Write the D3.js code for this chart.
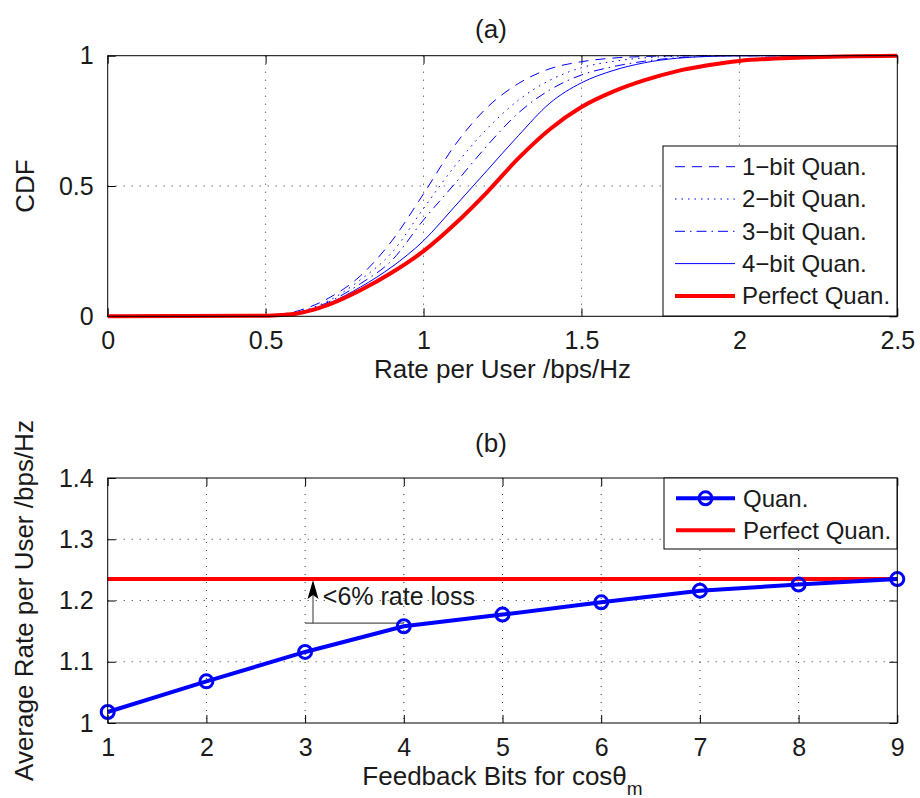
<!DOCTYPE html>
<html>
<head>
<meta charset="utf-8">
<script src="https://cdn.jsdelivr.net/npm/d3@7"></script>
<style>
body{margin:0;background:#fff;}
svg text{font-family:"Liberation Sans",Arial,Helvetica,sans-serif;fill:#1a1a1a;}
.grid{stroke:#333;stroke-width:1;stroke-dasharray:1,7;}
</style>
</head>
<body>
<div id="canvas"></div>
<script>
// ---- (a) CDF of rate per user ----
var rateX      = [0, 0.5, 0.55, 0.6, 0.7, 0.8, 0.9, 1.0, 1.1, 1.2, 1.3, 1.4, 1.5, 1.6, 1.7, 1.8, 1.9, 2.0, 2.2, 2.5];
var cdf1bit    = [0, 0.002, 0.008, 0.02, 0.07, 0.155, 0.29, 0.47, 0.658, 0.8, 0.893, 0.95, 0.977, 0.991, 0.997, 1, 1, 1, 1, 1];
var cdf2bit    = [0, 0.002, 0.007, 0.016, 0.06, 0.14, 0.245, 0.414, 0.578, 0.718, 0.829, 0.906, 0.954, 0.978, 0.992, 0.998, 1, 1, 1, 1];
var cdf3bit    = [0, 0.002, 0.006, 0.014, 0.055, 0.125, 0.215, 0.37, 0.51, 0.653, 0.78, 0.869, 0.926, 0.958, 0.979, 0.992, 0.998, 1, 1, 1];
var cdf4bit    = [0, 0.002, 0.005, 0.012, 0.05, 0.112, 0.19, 0.29, 0.423, 0.558, 0.693, 0.818, 0.896, 0.943, 0.973, 0.99, 0.997, 1, 1, 1];
var cdfPerfect = [0, 0.002, 0.005, 0.011, 0.045, 0.1, 0.168, 0.25, 0.355, 0.475, 0.606, 0.718, 0.803, 0.862, 0.906, 0.94, 0.963, 0.98, 0.993, 1];
var cdfNames   = ['1\u2212bit Quan.', '2\u2212bit Quan.', '3\u2212bit Quan.', '4\u2212bit Quan.', 'Perfect Quan.'];
var topXTicks  = [0, 0.5, 1, 1.5, 2, 2.5];
var topYTicks  = [0, 0.5, 1];

// ---- (b) average rate vs feedback bits ----
var feedbackBits = [1, 2, 3, 4, 5, 6, 7, 8, 9];
var avgRate      = [1.018, 1.068, 1.116, 1.158, 1.177, 1.197, 1.216, 1.226, 1.235];
var perfectRate  = 1.235;
var bottomYTicks = [1, 1.1, 1.2, 1.3, 1.4];
var rateNames    = ['Quan.', 'Perfect Quan.'];
// annotation: bracket from bit 3 to bit 4, arrow up to the perfect line
var lossX = [3, 4], lossArrowX = 3.08, lossY = 1.163, lossText = '<6% rate loss';

var W = 920, H = 798;
var axL = 107.7, axR = 897.3;
var tickFont = 25, labelFont = 26, legendFont = 24;
var fmt = d3.format('~g');

var svg = d3.select('#canvas').append('svg')
    .attr('width', W).attr('height', H);

// shared frame: box, inward ticks on all sides, dotted grid
function drawFrame(g, x, y, xTicks, yTicks){
    var w = x.range()[1] - x.range()[0], h = y.range()[0] - y.range()[1];
    g.append('rect').attr('width', w).attr('height', h).style('fill', 'white');
    xTicks.forEach(function(t){
        if(x(t) > 1 && x(t) < w - 1)
            g.append('line').attr('class', 'grid').attr('x1', x(t)).attr('x2', x(t)).attr('y1', 0).attr('y2', h);
    });
    yTicks.forEach(function(t){
        if(y(t) > 1 && y(t) < h - 1)
            g.append('line').attr('class', 'grid').attr('x1', 0).attr('x2', w).attr('y1', y(t)).attr('y2', y(t));
    });
    g.append('g').attr('transform', 'translate(0,' + h + ')')
        .call(d3.axisBottom(x).tickValues(xTicks).tickFormat(fmt).tickSize(-8).tickPadding(15));
    g.append('g')
        .call(d3.axisLeft(y).tickValues(yTicks).tickFormat(fmt).tickSize(-8).tickPadding(14));
    g.append('g').call(d3.axisTop(x).tickValues(xTicks).tickSize(-8).tickFormat(''));
    g.append('g').attr('transform', 'translate(' + w + ',0)')
        .call(d3.axisRight(y).tickValues(yTicks).tickSize(-8).tickFormat(''));
    g.selectAll('.domain').remove();
    g.selectAll('.tick line').style('stroke', '#000');
    g.selectAll('.tick text').style('font-size', tickFont + 'px').style('fill', '#1a1a1a');
    return {w: w, h: h};
}

function drawBox(g, w, h){
    g.append('rect').attr('width', w).attr('height', h)
        .style('fill', 'none').style('stroke', '#000').style('stroke-width', 1);
}

// ================= (a) =================
var topT = 55.7, topB = 316.3;
var ga = svg.append('g').attr('transform', 'translate(' + axL + ',' + topT + ')');
var xa = d3.scaleLinear().domain([0, 2.5]).range([0, axR - axL]);
var ya = d3.scaleLinear().domain([0, 1]).range([topB - topT, 0]);
var fa = drawFrame(ga, xa, ya, topXTicks, topYTicks);

var cdfSeries = [
    {vals: cdf1bit,    color: '#0000ff', width: 1, dash: '10,7'},
    {vals: cdf2bit,    color: '#0000ff', width: 1, dash: '1.5,5'},
    {vals: cdf3bit,    color: '#0000ff', width: 1, dash: '10,5,1.5,5'},
    {vals: cdf4bit,    color: '#0000ff', width: 1, dash: null},
    {vals: cdfPerfect, color: '#ff0000', width: 4, dash: null}
];
var lineA = d3.line()
    .x(function(d){ return xa(d[0]); })
    .y(function(d){ return ya(d[1]); })
    .curve(d3.curveMonotoneX);

cdfSeries.forEach(function(s){
    ga.append('path')
        .datum(rateX.map(function(v, i){ return [v, s.vals[i]]; }))
        .attr('d', lineA)
        .style('fill', 'none')
        .style('stroke', s.color)
        .style('stroke-width', s.width)
        .style('stroke-dasharray', s.dash);
});
drawBox(ga, fa.w, fa.h);

// legend (a)
var lgA = ga.append('g').attr('transform', 'translate(' + (663 - axL) + ',' + (146 - topT) + ')');
lgA.append('rect').attr('width', 234).attr('height', 170)
    .style('fill', 'white').style('stroke', '#000');
cdfNames.forEach(function(name, i){
    var yy = 20.7 + i * 32.3, s = cdfSeries[i];
    lgA.append('line').attr('x1', 12).attr('x2', 72).attr('y1', yy).attr('y2', yy)
        .style('stroke', s.color).style('stroke-width', s.width)
        .style('stroke-dasharray', s.dash);
    lgA.append('text').attr('x', 79).attr('y', yy).attr('dy', '0.35em')
        .style('font-size', legendFont + 'px').text(name);
});

svg.append('text').attr('x', 491).attr('y', 38).attr('text-anchor', 'middle')
    .style('font-size', labelFont + 'px').text('(a)');
svg.append('text').attr('x', (axL + axR) / 2).attr('y', topB + 62).attr('text-anchor', 'middle')
    .style('font-size', labelFont + 'px').text('Rate per User /bps/Hz');
svg.append('text').attr('transform', 'translate(34,' + ((topT + topB) / 2) + ') rotate(-90)')
    .attr('text-anchor', 'middle')
    .style('font-size', labelFont + 'px').text('CDF');

// ================= (b) =================
var botT = 478, botB = 723;
var gb = svg.append('g').attr('transform', 'translate(' + axL + ',' + botT + ')');
var xb = d3.scaleLinear().domain([1, 9]).range([0, axR - axL]);
var yb = d3.scaleLinear().domain([1, 1.4]).range([botB - botT, 0]);
var fb = drawFrame(gb, xb, yb, feedbackBits, bottomYTicks);

// perfect quantization reference
gb.append('line')
    .attr('x1', xb(1)).attr('x2', xb(9))
    .attr('y1', yb(perfectRate)).attr('y2', yb(perfectRate))
    .style('stroke', '#ff0000').style('stroke-width', 4);

// rate loss annotation
gb.append('line')
    .attr('x1', xb(lossX[0])).attr('x2', xb(lossX[1]))
    .attr('y1', yb(lossY)).attr('y2', yb(lossY))
    .style('stroke', '#555').style('stroke-width', 1.2);
gb.append('line')
    .attr('x1', xb(lossArrowX)).attr('x2', xb(lossArrowX))
    .attr('y1', yb(lossY)).attr('y2', yb(perfectRate) + 10)
    .style('stroke', '#555').style('stroke-width', 1.2);
var ax = xb(lossArrowX), at = yb(perfectRate) + 1;
gb.append('path')
    .attr('d', 'M' + ax + ',' + at + 'L' + (ax - 5.5) + ',' + (at + 19) + 'L' + ax + ',' + (at + 15) + 'L' + (ax + 5.5) + ',' + (at + 19) + 'Z')
    .style('fill', '#000');
gb.append('text').attr('x', xb(3.18)).attr('y', yb(1.193))
    .style('font-size', '25px').text(lossText);

var lineB = d3.line()
    .x(function(d, i){ return xb(feedbackBits[i]); })
    .y(function(d){ return yb(d); });
gb.append('path').datum(avgRate).attr('d', lineB)
    .style('fill', 'none').style('stroke', '#0000ff').style('stroke-width', 4);
gb.selectAll('circle.pt').data(avgRate).enter().append('circle')
    .attr('class', 'pt')
    .attr('cx', function(d, i){ return xb(feedbackBits[i]); })
    .attr('cy', function(d){ return yb(d); })
    .attr('r', 6.5)
    .style('fill', 'none').style('stroke', '#0000ff').style('stroke-width', 3);
drawBox(gb, fb.w, fb.h);

// legend (b)
var lgB = gb.append('g').attr('transform', 'translate(' + (664 - axL) + ',0)');
lgB.append('rect').attr('width', 233).attr('height', 71)
    .style('fill', 'white').style('stroke', '#000');
rateNames.forEach(function(name, i){
    var yy = 20.3 + i * 32;
    lgB.append('line').attr('x1', 12).attr('x2', 71).attr('y1', yy).attr('y2', yy)
        .style('stroke', i === 0 ? '#0000ff' : '#ff0000').style('stroke-width', 4);
    if(i === 0){
        lgB.append('circle').attr('cx', 41.5).attr('cy', yy).attr('r', 6.5)
            .style('fill', 'none').style('stroke', '#0000ff').style('stroke-width', 3);
    }
    lgB.append('text').attr('x', 79).attr('y', yy).attr('dy', '0.35em')
        .style('font-size', legendFont + 'px').text(name);
});

svg.append('text').attr('x', 491).attr('y', 452).attr('text-anchor', 'middle')
    .style('font-size', labelFont + 'px').text('(b)');
var xl = svg.append('text').attr('x', (axL + axR) / 2).attr('y', botB + 62).attr('text-anchor', 'middle')
    .style('font-size', labelFont + 'px');
xl.append('tspan').text('Feedback Bits for cos\u03b8');
xl.append('tspan').attr('dy', 10).style('font-size', '19px').text('m');
svg.append('text').attr('transform', 'translate(33,' + ((botT + botB) / 2) + ') rotate(-90)')
    .attr('text-anchor', 'middle')
    .style('font-size', labelFont + 'px').text('Average Rate per User /bps/Hz');
</script>
</body>
</html>
